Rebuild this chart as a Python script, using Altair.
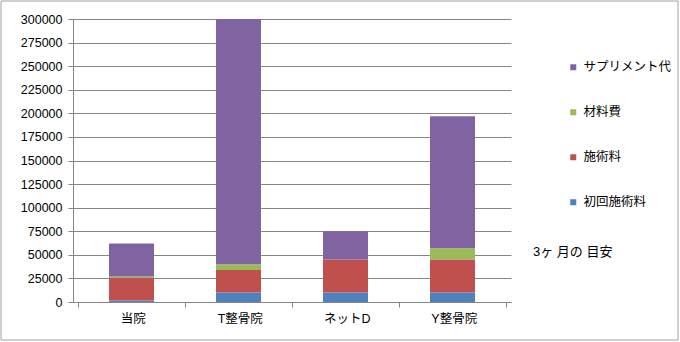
import altair as alt
import pandas as pd

categories = ['当院', 'T整骨院', 'ネットD', 'Y整骨院']
series = ['初回施術料', '施術料', '材料費', 'サプリメント代']
initial_fee = [1500, 10000, 10000, 10000]
treatment_fee = [24000, 24000, 35000, 35000]
material_fee = [1500, 6000, 0, 12000]
supplement_fee = [35000, 260000, 30000, 140000]
y_ticks = list(range(0, 300001, 25000))
colors = {'初回施術料': '#4F81BD', '施術料': '#C0504D', '材料費': '#9BBB59', 'サプリメント代': '#8064A2'}
legend_order = ['サプリメント代', '材料費', '施術料', '初回施術料']
note = '3ヶ 月の 目安'

rows = []
for i, c in enumerate(categories):
    for j, (s, vals) in enumerate(zip(series, [initial_fee, treatment_fee, material_fee, supplement_fee])):
        rows.append({'cat': c, 'pos': i + 0.5, 'series': s, 'value': vals[i], 'o': j})
df = pd.DataFrame(rows)

FONT = 'Liberation Sans, Noto Sans CJK JP'
W, H = 438, 283

label_expr = "[" + ",".join("'" + c + "'" for c in categories) + ",''][datum.value]"

bars = alt.Chart(df).mark_bar(size=45).encode(
    x=alt.X('pos:Q', scale=alt.Scale(domain=[0, len(categories)], nice=False, zero=False),
            axis=alt.Axis(values=list(range(len(categories) + 1)), labelExpr=label_expr,
                          labelOffset=W / len(categories) / 2, labelFlush=False, labelOverlap=False,
                          grid=False, title=None, tickSize=5, labelPadding=5,
                          domainColor='#868686', tickColor='#868686')),
    y=alt.Y('value:Q', stack='zero', scale=alt.Scale(domain=[0, 300000], nice=False),
            axis=alt.Axis(values=y_ticks, format='d', title=None, grid=True, gridColor='#868686',
                          tickSize=5, labelPadding=6, domainColor='#868686', tickColor='#868686')),
    color=alt.Color('series:N',
                    scale=alt.Scale(domain=legend_order, range=[colors[s] for s in legend_order]),
                    legend=alt.Legend(title=None, orient='none', legendX=494, legendY=42,
                                      symbolType='square', symbolSize=36, symbolStrokeWidth=0,
                                      labelFontSize=12.5, labelFont=FONT, rowPadding=32, padding=0,
                                      labelOffset=4)),
    order=alt.Order('o:Q', sort='ascending'),
)

note_text = alt.Chart(pd.DataFrame({'t': [note]})).mark_text(
    align='left', baseline='middle', fontSize=13, font=FONT, color='black'
).encode(text='t:N', x=alt.value(460), y=alt.value(233))

border = alt.Chart(pd.DataFrame({'a': [0]})).mark_rect(
    fill=None, stroke='#A0A0A0', strokeWidth=1
).encode(x=alt.value(-72), y=alt.value(-18), x2=alt.value(605), y2=alt.value(321))

chart = alt.layer(bars, note_text, border).properties(
    width=W, height=H,
    autosize=alt.AutoSizeParams(type='none'),
    padding={'left': 73, 'top': 19, 'right': 169, 'bottom': 40},
).configure_view(stroke=None).configure_axis(
    labelFont=FONT, labelFontSize=12.5, labelColor='black'
)

chart.save('out.html', embed_options={'renderer': 'svg', 'actions': False})
